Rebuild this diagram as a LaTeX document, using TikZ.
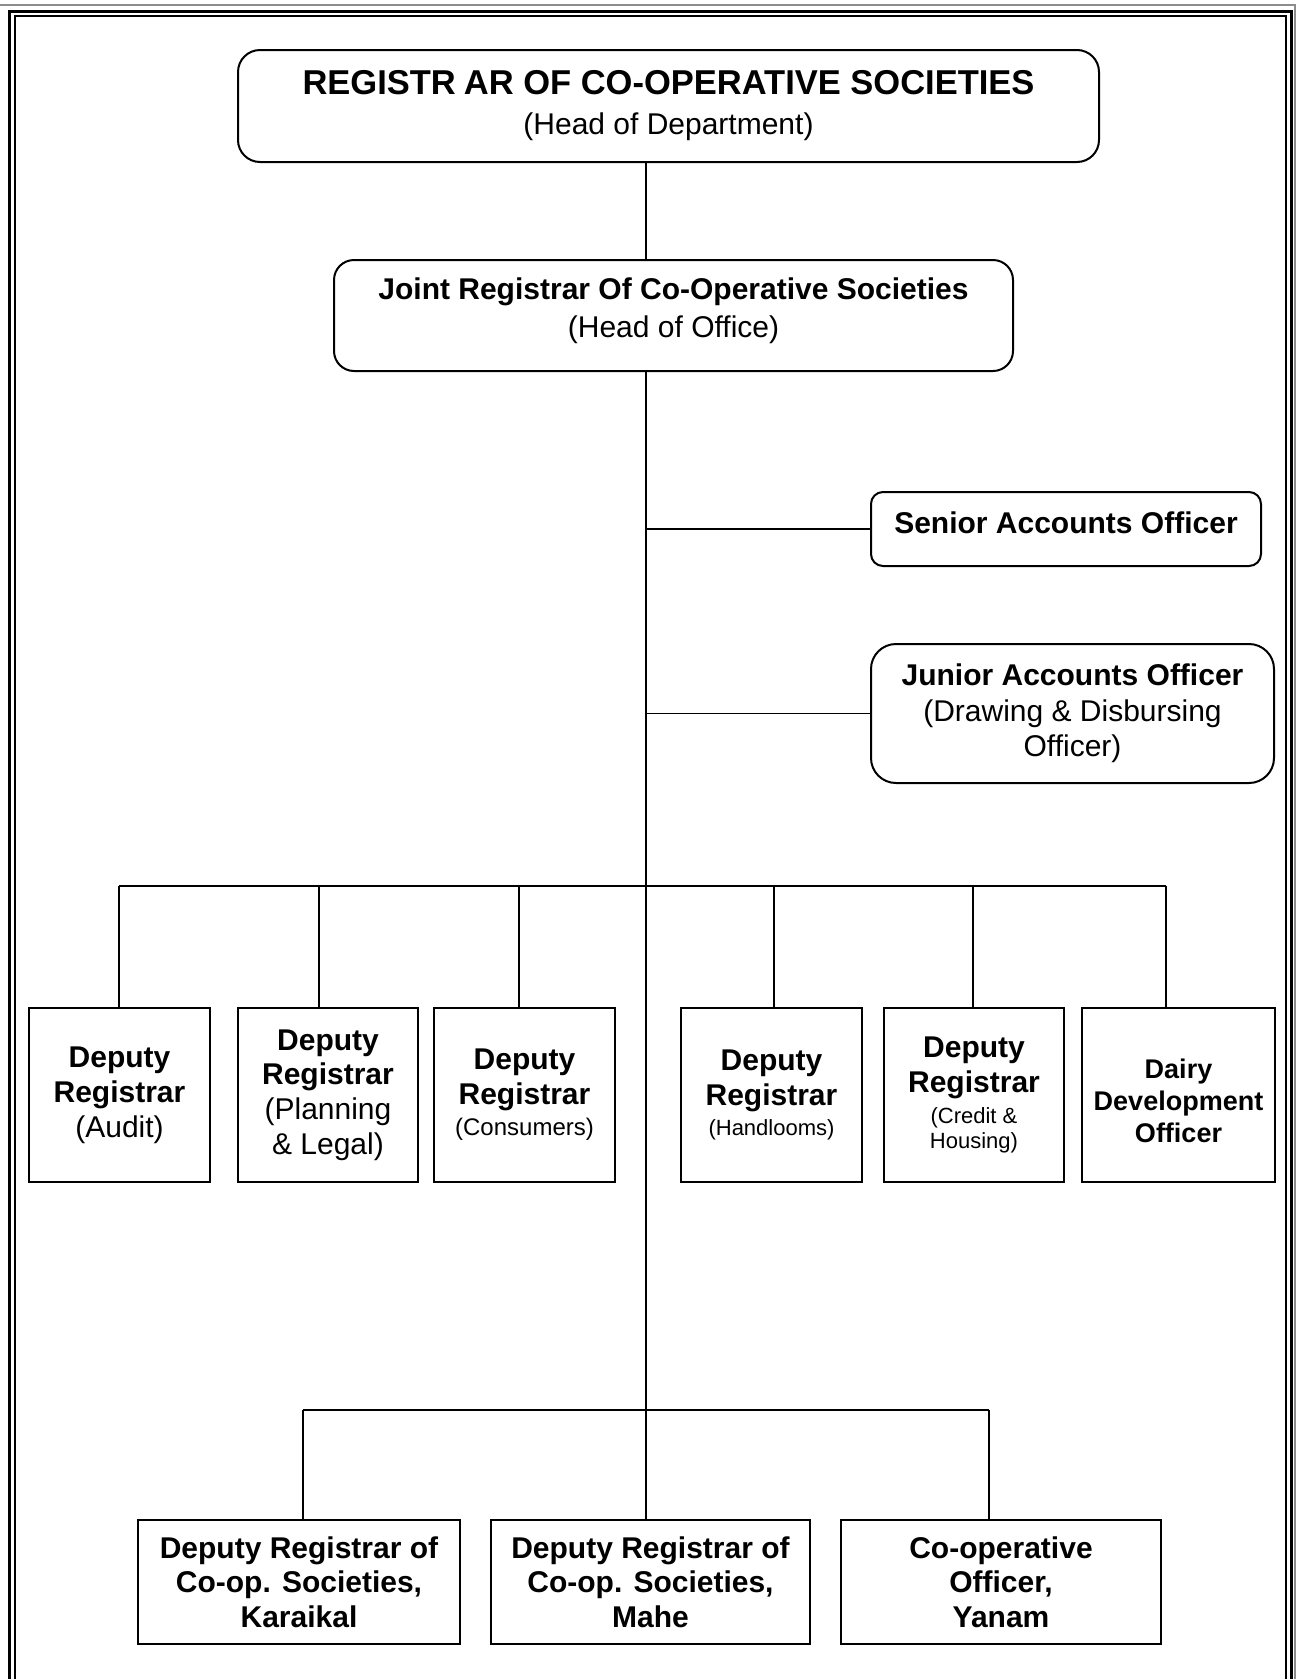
\documentclass[tikz,border=0pt]{standalone}
\usepackage{fontspec}
\setmainfont{Liberation Sans}
\begin{document}
\begin{tikzpicture}[x=1pt,y=-1pt,
  rbox/.style={draw, line width=2pt, rounded corners=#1, inner sep=0pt, align=center},
  sbox/.style={draw, line width=2pt, inner sep=0pt, align=center},
  conn/.style={draw, line width=1.8pt},
  frameline/.style={line width=#1, line cap=butt}]
\useasboundingbox (0,0) rectangle (1296,1679);
% page frame (open at the bottom)
\draw[frameline=1.5pt, black!45] (0,5) -- (1296,5);
\draw[frameline=1.5pt, black!45] (1295,5) -- (1295,1679);
\draw[frameline=3pt] (9.5,1679) -- (9.5,11) -- (1291.5,11) -- (1291.5,1679);
\draw[frameline=1.8pt] (15,1679) -- (15,16) -- (1286,16) -- (1286,1679);

% top
\node[rbox=22pt, minimum width=861pt, minimum height=112pt,
  font=\fontsize{34.5}{40}\selectfont\bfseries] (top) at (668.5,106)
  {REGISTR\kern8pt AR OF CO-OPERATIVE SOCIETIES\\
   {\fontsize{30}{40}\selectfont\mdseries (Head of Department)}};
\node[rbox=20pt, minimum width=679pt, minimum height=111pt,
  font=\fontsize{30}{37.5}\selectfont\bfseries] (joint) at (673.5,315.5)
  {Joint Registrar Of Co-Operative Societies\\
   {\mdseries (Head of Office)}\rule[-16pt]{0pt}{16pt}};
\node[rbox=12pt, minimum width=390pt, minimum height=74pt,
  font=\fontsize{30}{35}\selectfont\bfseries] (senior) at (1066,529)
  {Senior Accounts Officer\rule[-12pt]{0pt}{12pt}};
\node[rbox=25pt, minimum width=403pt, minimum height=139pt,
  font=\fontsize{30}{35.5}\selectfont\bfseries] (junior) at (1072.5,713.5)
  {Junior Accounts Officer\\
   {\mdseries (Drawing \& Disbursing}\\{\mdseries Officer)}};

% deputy row
\node[sbox, minimum width=181pt, minimum height=174pt,
  font=\fontsize{30}{35}\selectfont\bfseries] (b1) at (119.5,1095)
  {Deputy\\Registrar\\{\mdseries (Audit)}};
\node[sbox, minimum width=180pt, minimum height=174pt,
  font=\fontsize{30}{34.7}\selectfont\bfseries] (b2) at (328,1095)
  {Deputy\\Registrar\\{\mdseries (Planning}\\{\mdseries \& Legal)}};
\node[sbox, minimum width=181pt, minimum height=174pt,
  font=\fontsize{30}{35}\selectfont\bfseries] (b3) at (524.5,1095)
  {Deputy\\Registrar\\[-4pt]{\fontsize{24}{28}\selectfont\mdseries (Consumers)}};
\node[sbox, minimum width=181pt, minimum height=174pt,
  font=\fontsize{30}{35}\selectfont\bfseries] (b4) at (771.5,1095)
  {Deputy\\Registrar\\[-5pt]{\fontsize{22}{26}\selectfont\mdseries (Handlooms)}};
\node[sbox, minimum width=180pt, minimum height=174pt,
  font=\fontsize{30}{35}\selectfont\bfseries] (b5) at (974,1095)
  {Deputy\\Registrar\\[-4pt]{\fontsize{22}{26}\selectfont\mdseries (Credit \&}\\[-10pt]{\fontsize{22}{26}\selectfont\mdseries Housing)}};
\node[sbox, minimum width=193pt, minimum height=174pt,
  font=\fontsize{27}{32}\selectfont\bfseries] (b6) at (1178.5,1095)
  {\rule{0pt}{31pt}Dairy\\Development\\Officer};

% bottom row
\node[sbox, minimum width=322pt, minimum height=124pt,
  font=\fontsize{30}{34.3}\selectfont\bfseries] (kar) at (299,1582)
  {Deputy Registrar of\\Co-op. Societies,\\Karaikal};
\node[sbox, minimum width=319pt, minimum height=124pt,
  font=\fontsize{30}{34.3}\selectfont\bfseries] (mahe) at (650.5,1582)
  {Deputy Registrar of\\Co-op. Societies,\\Mahe};
\node[sbox, minimum width=320pt, minimum height=124pt,
  font=\fontsize{30}{34.3}\selectfont\bfseries] (yan) at (1001,1582)
  {Co-operative\\Officer,\\Yanam};

% connectors
\coordinate (tx) at (646,0);
\path[conn] (tx |- top.south) -- (tx |- joint.north);
\path[conn] (tx |- joint.south) -- (tx |- mahe.north);
\path[conn] (tx |- senior.west) -- (senior.west);
\path[conn] (tx |- junior.west) -- (junior.west);

\coordinate (d1) at (119,886);
\coordinate (d2) at (319,886);
\coordinate (d3) at (519,886);
\coordinate (d4) at (774,886);
\coordinate (d5) at (973,886);
\coordinate (d6) at (1166,886);
\path[conn] (d1) -- (d6);
\path[conn] (d1) -- (d1 |- b1.north);
\path[conn] (d2) -- (d2 |- b2.north);
\path[conn] (d3) -- (d3 |- b3.north);
\path[conn] (d4) -- (d4 |- b4.north);
\path[conn] (d5) -- (d5 |- b5.north);
\path[conn] (d6) -- (d6 |- b6.north);

\coordinate (e1) at (303,1410);
\coordinate (e3) at (989,1410);
\path[conn] (e1) -- (e3);
\path[conn] (e1) -- (e1 |- kar.north);
\path[conn] (e3) -- (e3 |- yan.north);
\end{tikzpicture}
\end{document}
